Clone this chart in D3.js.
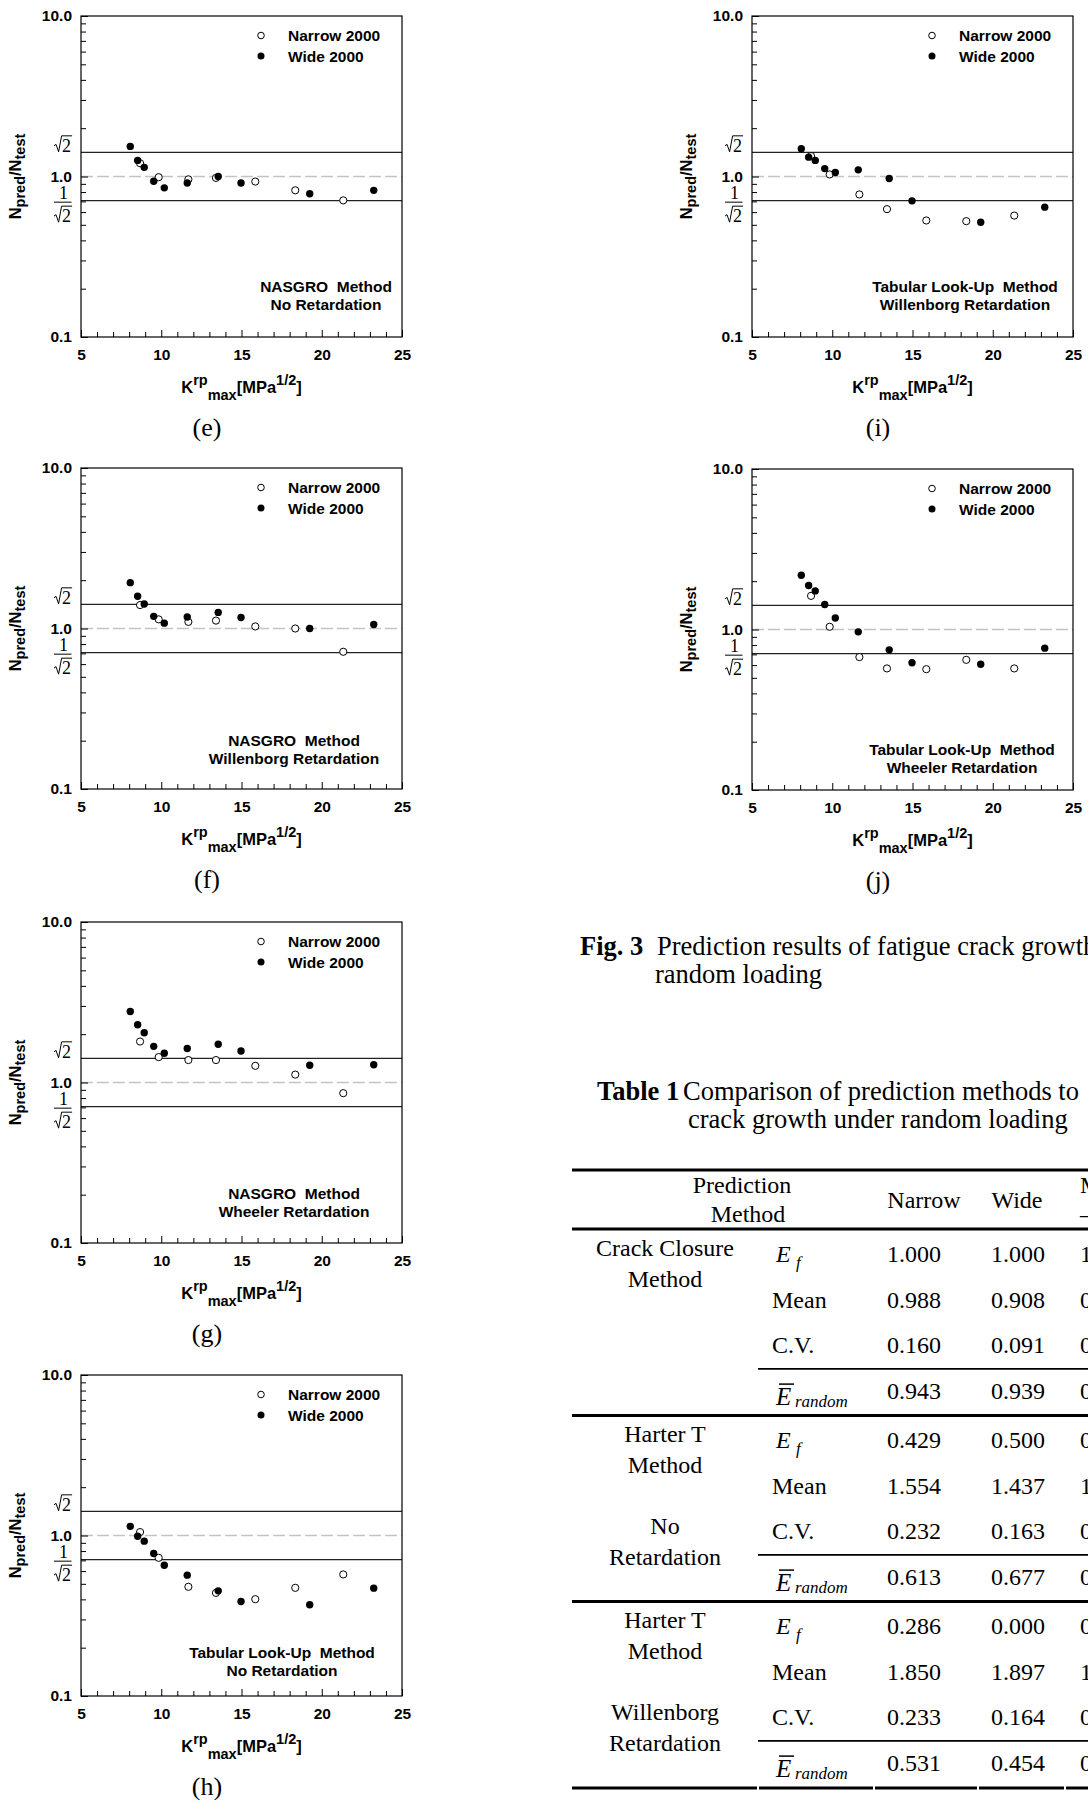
<!DOCTYPE html>
<html>
<head>
<meta charset="utf-8">
<script src="https://cdn.jsdelivr.net/npm/d3@7"></script>
<style>
body { margin: 0; background: #fff; }
svg { display: block; }
.sans { font-family: "Liberation Sans", Arial, sans-serif; font-weight: bold; fill: #000; }
.serif { font-family: "Liberation Serif", "Times New Roman", serif; fill: #000; }
</style>
</head>
<body>
<div id="page"></div>
<script>
'use strict';

// K^rp_max of each specimen, same for every panel
var kNarrow = [8.68, 9.84, 11.69, 13.41, 15.86, 18.35, 21.34];
var kWide   = [8.07, 8.53, 8.94, 9.53, 10.19, 11.62, 13.55, 14.97, 19.25, 23.24];

// Npred/Ntest
var eNarrow = [1.21, 0.99, 0.96, 0.98, 0.93, 0.82, 0.71];
var eWide   = [1.54, 1.26, 1.14, 0.935, 0.85, 0.91, 1.0, 0.91, 0.78, 0.82];
var fNarrow = [1.40, 1.14, 1.10, 1.12, 1.03, 1.00, 0.716];
var fWide   = [1.93, 1.59, 1.42, 1.19, 1.08, 1.18, 1.26, 1.17, 1.00, 1.06];
var gNarrow = [1.80, 1.44, 1.38, 1.38, 1.27, 1.12, 0.858];
var gWide   = [2.77, 2.29, 2.04, 1.68, 1.52, 1.63, 1.73, 1.57, 1.28, 1.29];
var hNarrow = [1.05, 0.726, 0.479, 0.439, 0.401, 0.472, 0.572];
var hWide   = [1.14, 0.99, 0.922, 0.773, 0.653, 0.566, 0.452, 0.388, 0.370, 0.470];
var iNarrow = [1.34, 1.03, 0.773, 0.626, 0.532, 0.527, 0.571];
var iWide   = [1.49, 1.32, 1.26, 1.12, 1.06, 1.10, 0.972, 0.705, 0.519, 0.644];
var jNarrow = [1.62, 1.04, 0.673, 0.572, 0.566, 0.647, 0.572];
var jWide   = [2.18, 1.88, 1.74, 1.43, 1.18, 0.967, 0.747, 0.620, 0.608, 0.765];

var narrowSets = [eNarrow, fNarrow, gNarrow, hNarrow, iNarrow, jNarrow];
var wideSets   = [eWide, fWide, gWide, hWide, iWide, jWide];
var panelNames = ['(e)', '(f)', '(g)', '(h)', '(i)', '(j)'];
var methodNames = ['NASGRO  Method', 'NASGRO  Method', 'NASGRO  Method',
                   'Tabular Look-Up  Method', 'Tabular Look-Up  Method', 'Tabular Look-Up  Method'];
var retardNames = ['No Retardation', 'Willenborg Retardation', 'Wheeler Retardation',
                   'No Retardation', 'Willenborg Retardation', 'Wheeler Retardation'];
var legendNames = ['Narrow 2000', 'Wide 2000'];
var xMajor = [5, 10, 15, 20, 25];
var yMajor = [0.1, 1, 10];

// table 1
var tableStatNames = ['E_f', 'Mean', 'C.V.', 'E_random'];
var tableGroups = [['Crack Closure', 'Method'],
                   ['Harter T', 'Method', 'No', 'Retardation'],
                   ['Harter T', 'Method', 'Willenborg', 'Retardation']];
var narrowStats = [[1.000, 0.988, 0.160, 0.943], [0.429, 1.554, 0.232, 0.613], [0.286, 1.850, 0.233, 0.531]];
var wideStats   = [[1.000, 0.908, 0.091, 0.939], [0.500, 1.437, 0.163, 0.677], [0.000, 1.897, 0.164, 0.454]];
var cutColumn   = [['1', '0', '0', '0'], ['0', '1', '0', '0'], ['0', '1', '0', '0']];

var fig = {};
fig.w = 321;
fig.h = 321;
fig.left = [81, 81, 81, 81, 752, 752];
fig.top = [16, 468, 922, 1375, 16, 469];
fig.noteX = [245, 213, 213, 201, 213, 210];
fig.noteY = [276, 278, 277, 283, 276, 286];

fig.radical = function (g, ox, by) {
    g.append('path')
        .attr('d', 'M' + ox + ',' + (by - 6) + 'l2,-1.5l2.6,7.5l3,-16h10.5')
        .attr('fill', 'none').attr('stroke', '#000').attr('stroke-width', 1);
    g.append('text').attr('class', 'serif').attr('x', ox + 8).attr('y', by)
        .style('font-size', '18px').text('2');
};

fig.drawPanel = function (svg, i) {
    var g = svg.append('g')
        .attr('transform', 'translate(' + fig.left[i] + ',' + fig.top[i] + ')');
    var x = d3.scaleLinear().domain([5, 25]).range([0, fig.w]);
    var y = d3.scaleLog().domain([0.1, 10]).range([fig.h, 0]);

    // reference lines
    g.append('line').attr('x1', 0).attr('x2', fig.w).attr('y1', y(1)).attr('y2', y(1))
        .attr('stroke', '#c4c4c4').attr('stroke-width', 1.3).attr('stroke-dasharray', '12,4');
    [Math.SQRT2, Math.SQRT1_2].forEach(function (v) {
        g.append('line').attr('x1', 0).attr('x2', fig.w).attr('y1', y(v)).attr('y2', y(v))
            .attr('stroke', '#222').attr('stroke-width', 1.3);
    });

    // axes, ticks point inside
    var yMinor = y.ticks().filter(function (v) {
        var l = Math.log10(v);
        return Math.abs(l - Math.round(l)) > 1e-6;
    });
    var xMinor = x.ticks(20).filter(function (v) { return v % 5 !== 0; });
    var axes = [
        g.append('g').call(d3.axisLeft(y).tickValues(yMinor).tickSize(-5).tickFormat('')),
        g.append('g').call(d3.axisLeft(y).tickValues(yMajor).tickSize(-7).tickPadding(9)
            .tickFormat(d3.format('.1f'))),
        g.append('g').attr('transform', 'translate(0,' + fig.h + ')')
            .call(d3.axisBottom(x).tickValues(xMinor).tickSize(-5).tickFormat('')),
        g.append('g').attr('transform', 'translate(0,' + fig.h + ')')
            .call(d3.axisBottom(x).tickValues(xMajor).tickSize(-7).tickPadding(12))
    ];
    axes.forEach(function (a) {
        a.select('.domain').remove();
        a.selectAll('line').attr('stroke', '#000').attr('stroke-width', 1);
        a.selectAll('text').attr('class', 'sans').style('font-size', '15.5px')
            .attr('font-family', null).attr('font-size', null).attr('fill', '#000');
    });

    g.append('rect').attr('width', fig.w).attr('height', fig.h)
        .attr('fill', 'none').attr('stroke', '#000').attr('stroke-width', 1.2);

    // sqrt2 labels
    fig.radical(g, -27, y(Math.SQRT2) - 0.5);
    g.append('text').attr('class', 'serif').attr('x', -17.5).attr('y', y(Math.SQRT1_2) - 2)
        .attr('text-anchor', 'middle').style('font-size', '18px').text('1');
    g.append('line').attr('x1', -27).attr('x2', -9.5)
        .attr('y1', y(Math.SQRT1_2) + 1.5).attr('y2', y(Math.SQRT1_2) + 1.5)
        .attr('stroke', '#000').attr('stroke-width', 1);
    fig.radical(g, -27, y(Math.SQRT1_2) + 21.5);

    // points
    g.selectAll('.narrow').data(d3.zip(kNarrow, narrowSets[i])).enter()
        .append('circle').attr('class', 'narrow')
        .attr('cx', function (d) { return x(d[0]); })
        .attr('cy', function (d) { return y(d[1]); })
        .attr('r', 3.6).attr('fill', '#fff').attr('stroke', '#000').attr('stroke-width', 1);
    g.selectAll('.wide').data(d3.zip(kWide, wideSets[i])).enter()
        .append('circle').attr('class', 'wide')
        .attr('cx', function (d) { return x(d[0]); })
        .attr('cy', function (d) { return y(d[1]); })
        .attr('r', 3.7).attr('fill', '#000');

    // legend
    g.append('circle').attr('cx', 180).attr('cy', 19.5).attr('r', 3.3)
        .attr('fill', '#fff').attr('stroke', '#000').attr('stroke-width', 1);
    g.append('circle').attr('cx', 180).attr('cy', 40).attr('r', 3.5).attr('fill', '#000');
    g.selectAll('.leg').data(legendNames).enter()
        .append('text').attr('class', 'sans leg')
        .attr('x', 207).attr('y', function (d, k) { return 24.7 + k * 21.3; })
        .style('font-size', '15.5px').text(function (d) { return d; });

    // method note
    g.selectAll('.note').data([methodNames[i], retardNames[i]]).enter()
        .append('text').attr('class', 'sans note')
        .attr('x', fig.noteX[i]).attr('y', function (d, k) { return fig.noteY[i] + k * 17.7; })
        .attr('text-anchor', 'middle').style('font-size', '15.5px').style('white-space', 'pre')
        .text(function (d) { return d; });

    // axis titles
    var yt = g.append('text').attr('class', 'sans')
        .attr('transform', 'translate(-60,' + (fig.h / 2) + ') rotate(-90)')
        .attr('text-anchor', 'middle').style('font-size', '16.5px');
    yt.append('tspan').text('N');
    yt.append('tspan').attr('dy', 4).style('font-size', '14.5px').text('pred');
    yt.append('tspan').attr('dy', -4).text('/N');
    yt.append('tspan').attr('dy', 4).style('font-size', '14.5px').text('test');

    var xt = g.append('text').attr('class', 'sans')
        .attr('x', fig.w / 2).attr('y', fig.h + 56)
        .attr('text-anchor', 'middle').style('font-size', '16.5px');
    xt.append('tspan').text('K');
    xt.append('tspan').attr('dy', -8).style('font-size', '14.5px').text('rp');
    xt.append('tspan').attr('dy', 14.5).style('font-size', '14.5px').text('max');
    xt.append('tspan').attr('dy', -6.5).text('[MPa');
    xt.append('tspan').attr('dy', -8).style('font-size', '14.5px').text('1/2');
    xt.append('tspan').attr('dy', 8).text(']');

    g.append('text').attr('class', 'serif').attr('x', 126).attr('y', 420)
        .attr('text-anchor', 'middle').style('font-size', '26px').text(panelNames[i]);
};

fig.drawCaptions = function (svg) {
    var t = svg.append('g').attr('class', 'serif').style('font-size', '26.5px');
    t.append('text').attr('x', 580).attr('y', 955).style('font-weight', 'bold').text('Fig. 3');
    t.append('text').attr('x', 657).attr('y', 955).text('Prediction results of fatigue crack growth under');
    t.append('text').attr('x', 655).attr('y', 983).text('random loading');
    t.append('text').attr('x', 597).attr('y', 1100).style('font-weight', 'bold').text('Table 1');
    t.append('text').attr('x', 683).attr('y', 1100).text('Comparison of prediction methods to');
    t.append('text').attr('x', 688).attr('y', 1128).text('crack growth under random loading');
};

fig.drawTable = function (svg) {
    var t = svg.append('g').attr('class', 'serif').style('font-size', '24px');
    var fmt = d3.format('.3f');
    var rule = function (x1, x2, yy, w) {
        t.append('line').attr('x1', x1).attr('x2', x2).attr('y1', yy).attr('y2', yy)
            .attr('stroke', '#000').attr('stroke-width', w);
    };
    rule(572, 1088, 1170, 3);
    rule(572, 1088, 1229, 3);

    t.append('text').attr('x', 742).attr('y', 1193).attr('text-anchor', 'middle').text('Prediction');
    t.append('text').attr('x', 748).attr('y', 1222).attr('text-anchor', 'middle').text('Method');
    t.append('text').attr('x', 924).attr('y', 1208).attr('text-anchor', 'middle').text('Narrow');
    t.append('text').attr('x', 1017).attr('y', 1208).attr('text-anchor', 'middle').text('Wide');
    t.append('text').attr('x', 1080).attr('y', 1193).text('M');
    t.append('text').attr('x', 1080).attr('y', 1222).text('–');

    tableGroups.forEach(function (grp, b) {
        var by = 1262 + b * 186;
        var offs = [-6.5, 24.5, 85.5, 116.5];
        grp.forEach(function (s, k) {
            t.append('text').attr('x', 665).attr('y', by + offs[k]).attr('text-anchor', 'middle').text(s);
        });
        tableStatNames.forEach(function (s, r) {
            var ry = by + r * 45.7;
            if (s === 'E_f') {
                t.append('text').attr('x', 776).attr('y', ry).style('font-style', 'italic').text('E');
                t.append('text').attr('x', 796).attr('y', ry + 6).style('font-style', 'italic')
                    .style('font-size', '17px').text('f');
            } else if (s === 'E_random') {
                t.append('text').attr('x', 776).attr('y', ry + 6).style('font-style', 'italic')
                    .style('font-size', '25px').text('E');
                t.append('text').attr('x', 795).attr('y', ry + 8).style('font-style', 'italic')
                    .style('font-size', '17px').text('random');
                rule(779, 794, ry - 15, 1.5);
            } else {
                t.append('text').attr('x', 772).attr('y', ry).text(s);
            }
            t.append('text').attr('x', 914).attr('y', ry).attr('text-anchor', 'middle')
                .text(fmt(narrowStats[b][r]));
            t.append('text').attr('x', 1018).attr('y', ry).attr('text-anchor', 'middle')
                .text(fmt(wideStats[b][r]));
            t.append('text').attr('x', 1080).attr('y', ry).text(cutColumn[b][r]);
        });
        rule(758, 1088, by + 2 * 45.7 + 15.5, 1.8);
        if (b < 2) rule(572, 1088, by + 3 * 45.7 + 16.5, 3);
    });

    // bottom rule is split per column
    [[572, 757], [759, 873], [875, 977], [979, 1064], [1066, 1088]].forEach(function (s) {
        rule(s[0], s[1], 1788, 3);
    });
};

var svg = d3.select('#page').append('svg').attr('width', 1088).attr('height', 1800);
svg.append('rect').attr('width', 1088).attr('height', 1800).attr('fill', '#fff');
for (var i = 0; i < panelNames.length; i++) {
    fig.drawPanel(svg, i);
}
fig.drawCaptions(svg);
fig.drawTable(svg);
</script>
</body>
</html>
